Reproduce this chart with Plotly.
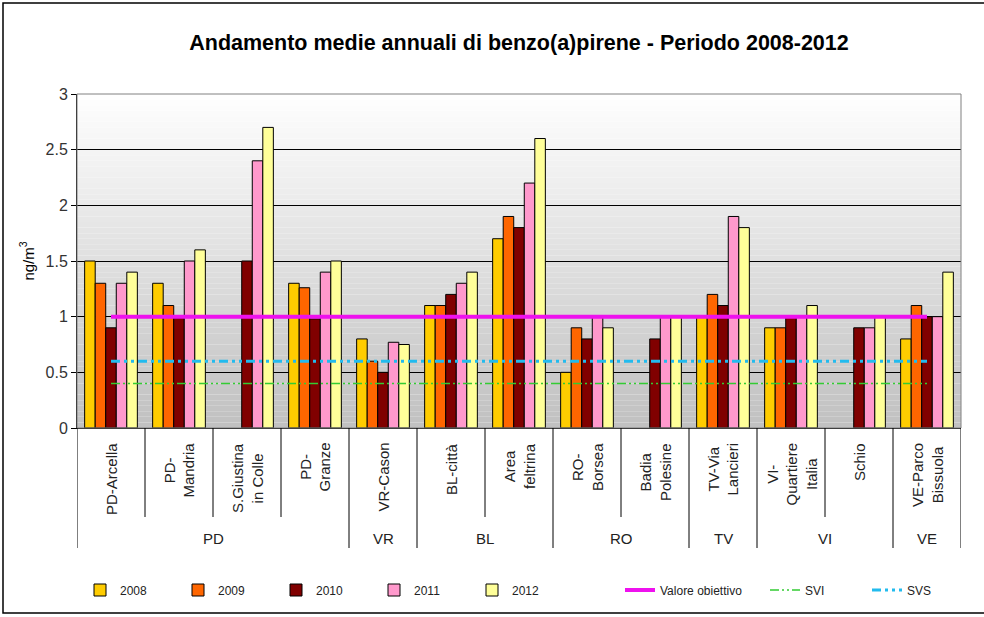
import plotly.graph_objects as go

# ---------------- data ----------------
stations = ["PD-Arcella", "PD-<br>Mandria", "S.Giustina<br>in Colle", "PD-<br>Granze",
            "VR-Cason", "BL-città", "Area<br>feltrina", "RO-<br>Borsea", "Badia<br>Polesine",
            "TV-Via<br>Lancieri", "VI-<br>Quartiere<br>Italia", "Schio", "VE-Parco<br>Bissuola"]
provinces = ["PD", "VR", "BL", "RO", "TV", "VI", "VE"]
province_counts = [4, 1, 2, 2, 1, 2, 1]

years = ["2008", "2009", "2010", "2011", "2012"]
v2008 = [1.5, 1.3, None, 1.3, 0.8, 1.1, 1.7, 0.5, None, 1.0, 0.9, None, 0.8]
v2009 = [1.3, 1.1, None, 1.26, 0.6, 1.1, 1.9, 0.9, None, 1.2, 0.9, None, 1.1]
v2010 = [0.9, 0.99, 1.5, 0.98, 0.5, 1.2, 1.8, 0.8, 0.8, 1.1, 1.0, 0.9, 1.0]
v2011 = [1.3, 1.5, 2.4, 1.4, 0.77, 1.3, 2.2, 1.0, 1.0, 1.9, 1.0, 0.9, 1.0]
v2012 = [1.4, 1.6, 2.7, 1.5, 0.75, 1.4, 2.6, 0.9, 1.0, 1.8, 1.1, 1.0, 1.4]
series = [v2008, v2009, v2010, v2011, v2012]
colors = ["#FFCC00", "#FF6600", "#800000", "#FF99CC", "#FFFF99"]

valore_obiettivo = 1.0
svi = 0.4
svs = 0.6

y_ticks = [0, 0.5, 1, 1.5, 2, 2.5, 3]
y_tick_labels = ["0", "0.5", "1", "1.5", "2", "2.5", "3"]

FONT = "Liberation Sans, Arial, sans-serif"

W, HT = 984, 617
ML, MR, MT, MB = 77, 23, 94, 189
PW = W - ML - MR
PH = HT - MT - MB


def px_y(py):
    return (HT - MB - py) / PH


def px_x(px):
    return (px - ML) / PW


fig = go.Figure()
for name, vals, col in zip(years, series, colors):
    fig.add_trace(go.Bar(x=stations, y=vals, name=name, legend="legend",
                         marker=dict(color=col, line=dict(color="black", width=1))))

fig.add_trace(go.Scatter(x=stations, y=[valore_obiettivo] * len(stations), mode="lines",
                         name="Valore obiettivo", legend="legend2",
                         line=dict(color="#EE11EE", width=4)))
fig.add_trace(go.Scatter(x=stations, y=[svi] * len(stations), mode="lines", name="SVI",
                         legend="legend3",
                         line=dict(color="#33CC33", width=1.5, dash="9px,3px,2px,3px,2px,3px")))
fig.add_trace(go.Scatter(x=stations, y=[svs] * len(stations), mode="lines", name="SVS",
                         legend="legend3",
                         line=dict(color="#22BBEE", width=3, dash="9px,4px,3px,4px,3px,4px")))

shapes = []
# background gradient of plot area
nb = 60
for i in range(nb):
    g = int(round(192 + (255 - 192) * (i + 0.5) / nb))
    shapes.append(dict(type="rect", xref="x domain", yref="y domain", x0=0, x1=1,
                       y0=i / nb, y1=(i + 1) / nb, fillcolor=f"rgb({g},{g},{g})",
                       line=dict(width=0), layer="below"))
# plot frame (gray top/right)
shapes.append(dict(type="rect", xref="x domain", yref="y domain", x0=0, x1=1, y0=0, y1=1,
                   line=dict(color="#808080", width=1), layer="above"))

# separators under the axis
group_bounds = [0]
for c in province_counts:
    group_bounds.append(group_bounds[-1] + c)
for k in range(len(stations) + 1):
    y1 = px_y(548) if k in group_bounds else px_y(517)
    shapes.append(dict(type="line", xref="x", yref="paper", x0=k - 0.5, x1=k - 0.5,
                       y0=0, y1=y1, line=dict(color="black", width=1)))
# outer chart border
shapes.append(dict(type="rect", xref="paper", yref="paper", x0=px_x(3), x1=px_x(992),
                   y0=px_y(613), y1=px_y(3), line=dict(color="black", width=1.5)))

annotations = []
# station labels (rotated, centered lines)
for s in stations:
    annotations.append(dict(text=s, x=s, xref="x", y=px_y(441), yref="paper",
                            showarrow=False, textangle=-90, yanchor="top", xanchor="center",
                            align="center", font=dict(size=15, color="#222")))
# province labels
for p, a, b in zip(provinces, group_bounds[:-1], group_bounds[1:]):
    annotations.append(dict(text=p, x=(a + b - 1) / 2, xref="x", y=px_y(538), yref="paper",
                            showarrow=False, yanchor="middle", font=dict(size=15, color="#222")))

leg_common = dict(orientation="h", xref="container", yref="container", y=1 - 590 / HT,
                  yanchor="middle", xanchor="left", font=dict(family=FONT, size=12, color="#222"),
                  bgcolor="rgba(0,0,0,0)", entrywidthmode="pixels")

fig.update_layout(
    width=W, height=HT,
    margin=dict(l=ML, r=MR, t=MT, b=MB),
    paper_bgcolor="white", plot_bgcolor="white",
    font=dict(family=FONT, size=13, color="#222"),
    title=dict(text="<b>Andamento medie annuali di benzo(a)pirene - Periodo 2008-2012</b>",
               x=0.5, xref="paper", y=1 - 42 / HT, yref="container", yanchor="middle",
               font=dict(size=21.5, color="black")),
    barmode="group", bargap=0.225, bargroupgap=0,
    showlegend=True,
    legend=dict(x=80 / W, entrywidth=53, traceorder="normal", **leg_common),
    legend2=dict(x=620 / W, **leg_common),
    legend3=dict(x=765 / W, entrywidth=57, traceorder="normal", **leg_common),
    shapes=shapes, annotations=annotations,
)
fig.update_xaxes(type="category", showline=True, linecolor="black", linewidth=1,
                 ticks="", showticklabels=False, showgrid=False,
                 range=[-0.5, len(stations) - 0.5])
fig.update_yaxes(range=[0, 3], tickvals=y_ticks, ticktext=y_tick_labels, showgrid=True,
                 gridcolor="black", gridwidth=1, showline=True, linecolor="black", linewidth=1,
                 ticks="outside", ticklen=5, tickcolor="black", zeroline=False,
                 tickfont=dict(size=16, color="#333"),
                 title=dict(text="ng/m<sup>3</sup>", standoff=7, font=dict(size=15, color="black")))

fig.write_html("out.html", config={"displayModeBar": False},
               post_script="document.body.style.margin='0px';")
